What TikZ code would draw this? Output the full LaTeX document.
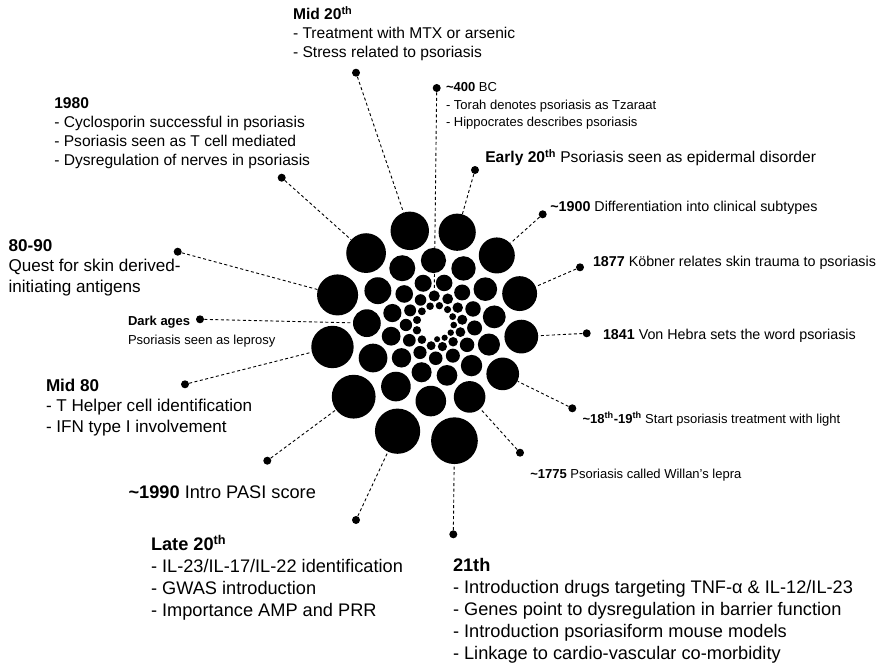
\documentclass[tikz,border=0pt]{standalone}
\usepackage{fontspec}
\setmainfont{Liberation Sans}

\begin{document}
\begin{tikzpicture}[x=1pt, y=1pt, semithick,
	ball/.style={circle, fill=black, inner sep=0pt},
	dot/.style={circle, fill=black, inner sep=0pt, minimum size=8pt},
	link/.style={dash pattern=on 3pt off 2.5pt, line width=0.9pt},
	note/.style={anchor=base west, inner sep=0pt, align=left},
	fsmall/.style={font=\fontsize{13}{18}\selectfont},
	fmid/.style={font=\fontsize{14.3}{18}\selectfont},
	fbig/.style={font=\fontsize{15.6}{19}\selectfont},
	flarge/.style={font=\fontsize{17.1}{20.7}\selectfont},
	fhuge/.style={font=\fontsize{18.2}{22}\selectfont}]
	\useasboundingbox[fill=white] (0,0) rectangle (882,-663);
	\coordinate (mid) at (437,-324);
	
	\foreach \k in {0,...,63}{
		\pgfmathsetmacro{\d}{118*0.968^\k}
		\pgfmathsetmacro{\a}{-81.5-28.7*\k}
		\pgfmathsetmacro{\s}{0.396*\d}
		\node[ball, minimum size=\s pt] (S\k) at ([shift={(\a:\d)}]mid) {};
	}
	
	\node[dot] (A) at (436.7,-88) {};
	\node[dot] (B) at (200,-319.3) {};
	\node[dot] (C) at (520,-452.7) {};
	\node[dot] (D) at (572.3,-408.3) {};
	\node[dot] (E) at (586.7,-333.3) {};
	\node[dot] (F) at (580,-267.3) {};
	\node[dot] (G) at (542.7,-214.3) {};
	\node[dot] (H) at (475,-170) {};
	\node[dot] (I) at (356,-72.7) {};
	\node[dot] (J) at (281.7,-177.7) {};
	\node[dot] (K) at (177.7,-251.7) {};
	\node[dot] (L) at (185,-384.3) {};
	\node[dot] (M) at (267.3,-460.7) {};
	\node[dot] (N) at (356,-520) {};
	\node[dot] (O) at (453.3,-534.3) {};
	
	\draw[link] (A) -- (S44);
	\draw[link] (B) -- (S16);
	\draw[link] (C) -- (S12);
	\draw[link] (D) -- (S11);
	\draw[link] (E) -- (S10);
	\draw[link] (F) -- (S9);
	\draw[link] (G) -- (S8);
	\draw[link] (H) -- (S7);
	\draw[link] (I) -- (S6);
	\draw[link] (J) -- (S5);
	\draw[link] (K) -- (S4);
	\draw[link] (L) -- (S3);
	\draw[link] (M) -- (S2);
	\draw[link] (N) -- (S1);
	\draw[link] (O) -- (S0);
	
	\node[note, font=\fontsize{13}{17.5}\selectfont] (At) at (445.7,-127) {\textbf{\textasciitilde400} BC\\- Torah denotes psoriasis as Tzaraat\\- Hippocrates describes psoriasis};
	\node[note, font=\fontsize{13}{19.3}\selectfont] (Bt) at (127.7,-344.7) {\textbf{Dark ages}\\Psoriasis seen as leprosy};
	\node[note, fsmall] (Ct) at (530,-478) {\textbf{\textasciitilde1775} Psoriasis called Willan's lepra};
	\node[note, fsmall] (Dt) at (582.3,-423) {\textbf{\textasciitilde18\textsuperscript{th}-19\textsuperscript{th}} Start psoriasis treatment with light};
	\node[note, fmid] (Et) at (602.7,-339.5) {\textbf{1841} Von Hebra sets the word psoriasis};
	\node[note, fmid] (Ft) at (592.7,-266.2) {\textbf{1877} Köbner relates skin trauma to psoriasis};
	\node[note, fmid] (Gt) at (550,-211.9) {\textbf{\textasciitilde1900} Differentiation into clinical subtypes};
	\node[note, fbig] (Ht) at (485,-162.3) {\textbf{Early 20\textsuperscript{th}} Psoriasis seen as epidermal disorder};
	\node[note, fbig] (It) at (292.7,-57.6) {\textbf{Mid 20\textsuperscript{th}}\\- Treatment with MTX or arsenic\\- Stress related to psoriasis};
	\node[note, fbig] (Jt) at (54,-165.9) {\textbf{1980}\\- Cyclosporin successful in psoriasis\\- Psoriasis seen as T cell mediated\\- Dysregulation of nerves in psoriasis};
	\node[note, flarge] (Kt) at (8.3,-292.6) {\textbf{80-90}\\Quest for skin derived-\\initiating antigens};
	\node[note, flarge] (Lt) at (45.7,-432.5) {\textbf{Mid 80}\\- T Helper cell identification\\- IFN type I involvement};
	\node[note, fhuge] (Mt) at (128.3,-498.3) {\textbf{\textasciitilde1990} Intro PASI score};
	\node[note, fhuge] (Nt) at (150.7,-616.6) {\textbf{Late 20\textsuperscript{th}}\\- IL-23/IL-17/IL-22 identification\\- GWAS introduction\\- Importance AMP and PRR};
	\node[note, fhuge] (Ot) at (452.7,-659.6) {\textbf{21th}\\- Introduction drugs targeting TNF-α \& IL-12/IL-23\\- Genes point to dysregulation in barrier function\\- Introduction psoriasiform mouse models\\- Linkage to cardio-vascular co-morbidity};
	
\end{tikzpicture}
\end{document}
